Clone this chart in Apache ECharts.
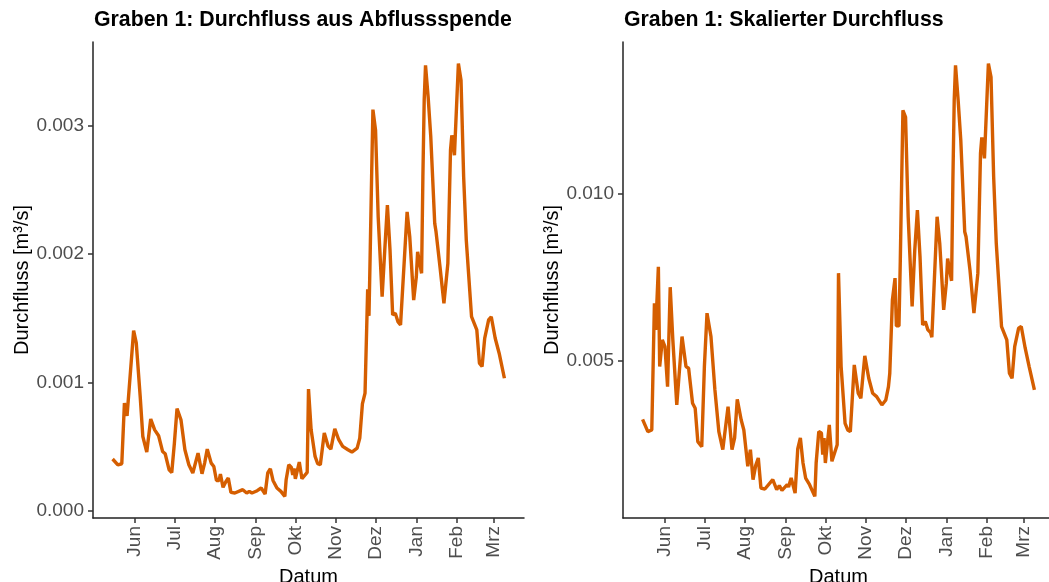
<!DOCTYPE html>
<html>
<head>
<meta charset="utf-8">
<script src="https://cdn.jsdelivr.net/npm/echarts@6/dist/echarts.min.js"></script>
<style>
  html, body { margin: 0; padding: 0; background: #fff; }
  #chart { width: 1049px; height: 582px; }
</style>
</head>
<body>
<div id="chart"></div>
<script>
// Messreihe beginnt am 15.05.2022, Tage seit Beginn
var startDate = '2022-05-15';

var tickDates = ['2022-06-01', '2022-07-01', '2022-08-01', '2022-09-01', '2022-10-01',
	'2022-11-01', '2022-12-01', '2023-01-01', '2023-02-01', '2023-03-01'];
var tickLabels = ['Jun', 'Jul', 'Aug', 'Sep', 'Okt', 'Nov', 'Dez', 'Jan', 'Feb', 'Mrz'];

var yTicksA = [0, 0.001, 0.002, 0.003];
var yTicksB = [0.005, 0.010];

// Graben 1: Durchfluss aus Abflussspende [m³/s]
var daysA = [0, 4, 7, 9, 10, 11, 12, 16, 18, 21,
	23, 26, 27, 29, 32, 35, 38, 40, 43, 45,
	47, 49, 52, 55, 58, 61, 65, 68, 70, 72,
	75, 77, 79, 81, 82, 84, 86, 88, 90, 93,
	99, 102, 104, 106, 110, 111, 113, 116, 118, 120,
	122, 125, 128, 131, 132, 134, 136, 137, 138, 139,
	142, 144, 145, 148, 149, 151, 154, 156, 158, 161,
	164, 166, 169, 172, 175, 179, 182, 186, 188, 190,
	192, 194, 195, 196, 197, 198, 200, 202, 205, 207,
	209, 211, 213, 215, 217, 219, 220, 224, 226, 229,
	231, 232, 235, 236, 237, 238, 240, 242, 245, 246,
	249, 252, 255, 257, 258, 260, 263, 265, 267, 269,
	273, 277, 279, 281, 283, 286, 288, 291, 294, 298];
var flowA = [0.000404, 0.000359, 0.000367, 0.000839, 0.000834, 0.000740, 0.000740, 0.001404, 0.001308, 0.000890,
	0.000579, 0.000458, 0.000463, 0.000715, 0.000631, 0.000585, 0.000463, 0.000445, 0.000320, 0.000299,
	0.000528, 0.000797, 0.000709, 0.000476, 0.000359, 0.000295, 0.000450, 0.000289, 0.000372, 0.000481,
	0.000372, 0.000346, 0.000237, 0.000237, 0.000287, 0.000183, 0.000225, 0.000256, 0.000144, 0.000139,
	0.000165, 0.000139, 0.000152, 0.000139, 0.000157, 0.000144, 0.000178, 0.000131, 0.000295, 0.000328,
	0.000237, 0.000178, 0.000152, 0.000113, 0.000243, 0.000359, 0.000338, 0.000280, 0.000330, 0.000250,
	0.000380, 0.000250, 0.000260, 0.000300, 0.000948, 0.000631, 0.000424, 0.000367, 0.000359, 0.000606,
	0.000502, 0.000481, 0.000639, 0.000554, 0.000502, 0.000476, 0.000458, 0.000489, 0.000567, 0.000834,
	0.000917, 0.001726, 0.001518, 0.002050, 0.002600, 0.003125, 0.002964, 0.002290, 0.001668, 0.002031,
	0.002381, 0.002031, 0.001526, 0.001539, 0.001474, 0.001448, 0.001435, 0.002329, 0.002135, 0.001642,
	0.001823, 0.002018, 0.001850, 0.002600, 0.003200, 0.003470, 0.003223, 0.002912, 0.002239, 0.002173,
	0.001901, 0.001617, 0.001928, 0.002809, 0.002925, 0.002770, 0.003483, 0.003353, 0.002601, 0.002109,
	0.001512, 0.001409, 0.001150, 0.001124, 0.001344, 0.001487, 0.001512, 0.001344, 0.001228, 0.001033];

// Graben 1: Skalierter Durchfluss [m³/s]
var daysB = [0, 4, 7, 9, 10, 12, 13, 15, 17, 19,
	21, 23, 26, 27, 30, 33, 35, 38, 40, 42,
	45, 47, 49, 52, 55, 58, 61, 65, 68, 70,
	72, 75, 77, 80, 81, 82, 84, 86, 88, 90,
	93, 99, 102, 104, 106, 110, 111, 113, 116, 118,
	120, 122, 124, 127, 131, 132, 134, 136, 137, 138,
	139, 142, 144, 145, 148, 149, 151, 154, 156, 158,
	161, 164, 166, 169, 172, 175, 178, 182, 185, 187,
	188, 190, 192, 193, 195, 196, 197, 198, 200, 202,
	205, 207, 209, 211, 213, 215, 217, 219, 220, 224,
	226, 229, 231, 232, 235, 236, 237, 238, 240, 242,
	245, 246, 249, 252, 255, 257, 258, 260, 263, 265,
	267, 269, 273, 277, 279, 281, 283, 286, 288, 291,
	294, 298];
var flowB = [0.00325, 0.00288, 0.00293, 0.00673, 0.00593, 0.00782, 0.00483, 0.00563, 0.00543, 0.00423,
	0.00721, 0.00563, 0.00368, 0.00373, 0.00573, 0.00483, 0.00478, 0.00373, 0.00358, 0.00258,
	0.00243, 0.00483, 0.00643, 0.00573, 0.00413, 0.00288, 0.00234, 0.00363, 0.00234, 0.00269,
	0.00385, 0.00323, 0.00293, 0.00184, 0.00186, 0.00234, 0.00144, 0.00186, 0.00209, 0.00119,
	0.00116, 0.00144, 0.00114, 0.00126, 0.00112, 0.00129, 0.00122, 0.00149, 0.00104, 0.00236,
	0.00269, 0.00194, 0.00149, 0.00129, 0.00094, 0.00194, 0.00288, 0.00284, 0.00219, 0.00269,
	0.00194, 0.00308, 0.00199, 0.00204, 0.00249, 0.00763, 0.00483, 0.00313, 0.00293, 0.00288,
	0.00488, 0.00403, 0.00388, 0.00515, 0.00448, 0.00403, 0.00393, 0.00368, 0.00383, 0.00423,
	0.00463, 0.00683, 0.00748, 0.00605, 0.00605, 0.00800, 0.01030, 0.01251, 0.01231, 0.00932,
	0.00663, 0.00832, 0.00952, 0.00812, 0.00608, 0.00618, 0.00593, 0.00585, 0.00571, 0.00932,
	0.00852, 0.00653, 0.00733, 0.00807, 0.00740, 0.01040, 0.01280, 0.01386, 0.01281, 0.01162,
	0.00887, 0.00872, 0.00772, 0.00643, 0.00763, 0.01122, 0.01170, 0.01107, 0.01391, 0.01351,
	0.01052, 0.00852, 0.00603, 0.00563, 0.00463, 0.00448, 0.00543, 0.00598, 0.00603, 0.00538,
	0.00483, 0.00413];

var DAY = 86400000;
var t0 = Date.parse(startDate);
var tickTimes = tickDates.map(function(d) { return Date.parse(d); });
var font = '"Liberation Sans", Arial, sans-serif';
var lineColor = '#D55E00';

function toPairs(days, vals) {
	return days.map(function(d, i) { return [t0 + d * DAY, vals[i]]; });
}

// wie ggplot: 5 % Luft an beiden Enden
function expMin(e) { return e.min - 0.05 * (e.max - e.min); }
function expMax(e) { return e.max + 0.05 * (e.max - e.min); }

function makeX(idx) {
	return {
		type : 'value',
		gridIndex : idx,
		min : expMin,
		max : expMax,
		name : 'Datum',
		nameLocation : 'middle',
		nameGap : 43,
		nameTextStyle : { fontSize : 20, color : '#000', fontFamily : font },
		axisLine : { show : true, onZero : false, lineStyle : { color : '#222', width : 1.5 } },
		axisTick : { show : true, length : 5, customValues : tickTimes, lineStyle : { color : '#333', width : 1.5 } },
		axisLabel : {
			customValues : tickTimes,
			rotate : 90,
			margin : 8,
			fontSize : 19,
			color : '#4D4D4D',
			fontFamily : font,
			formatter : function(v) {
				var i = tickTimes.indexOf(v);
				return i >= 0 ? tickLabels[i] : '';
			}
		},
		splitLine : { show : false }
	};
}

function makeY(idx, ticks) {
	return {
		type : 'value',
		gridIndex : idx,
		min : expMin,
		max : expMax,
		name : 'Durchfluss [m³/s]',
		nameLocation : 'middle',
		nameGap : 60,
		nameTextStyle : { fontSize : 20, color : '#000', fontFamily : font },
		axisLine : { show : true, onZero : false, lineStyle : { color : '#222', width : 1.5 } },
		axisTick : { show : true, length : 5, customValues : ticks, lineStyle : { color : '#333', width : 1.5 } },
		axisLabel : {
			customValues : ticks,
			margin : 9,
			fontSize : 19,
			color : '#4D4D4D',
			fontFamily : font,
			formatter : function(v) { return v.toFixed(3); }
		},
		splitLine : { show : false }
	};
}

var chart = echarts.init(document.getElementById('chart'));
chart.setOption({
	animation : false,
	backgroundColor : '#fff',
	title : [{
		text : 'Graben 1: Durchfluss aus Abflussspende',
		left : 94, top : 10, padding : 0,
		textStyle : { fontSize : 21.3, fontWeight : 'bold', color : '#000', fontFamily : font }
	}, {
		text : 'Graben 1: Skalierter Durchfluss',
		left : 624, top : 10, padding : 0,
		textStyle : { fontSize : 21.3, fontWeight : 'bold', color : '#000', fontFamily : font }
	}],
	grid : [
		{ left : 93, top : 42, width : 431, height : 476, outerBoundsMode : 'none', containLabel : false },
		{ left : 623, top : 42, width : 431, height : 476, outerBoundsMode : 'none', containLabel : false }
	],
	xAxis : [makeX(0), makeX(1)],
	yAxis : [makeY(0, yTicksA), makeY(1, yTicksB)],
	series : [{
		type : 'line',
		xAxisIndex : 0, yAxisIndex : 0,
		data : toPairs(daysA, flowA),
		showSymbol : false,
		lineStyle : { color : lineColor, width : 3.4 }
	}, {
		type : 'line',
		xAxisIndex : 1, yAxisIndex : 1,
		data : toPairs(daysB, flowB),
		showSymbol : false,
		lineStyle : { color : lineColor, width : 3.4 }
	}]
});
</script>
</body>
</html>
